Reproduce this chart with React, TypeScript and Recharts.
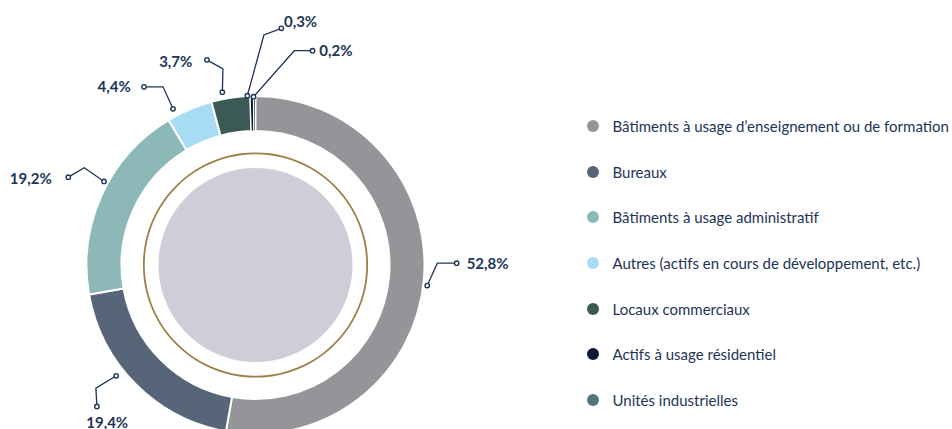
import React from 'react';
import { PieChart, Pie, Cell, Legend } from 'recharts';

const categories = [
    'Bâtiments à usage d’enseignement ou de formation',
    'Bureaux',
    'Bâtiments à usage administratif',
    'Autres (actifs en cours de développement, etc.)',
    'Locaux commerciaux',
    'Actifs à usage résidentiel',
    'Unités industrielles',
];
const shares = [52.8, 19.4, 19.2, 4.4, 3.7, 0.3, 0.2];
const colors = ['#939598', '#566577', '#8db8b8', '#a8dcf5', '#3c5a55', '#0e1a36', '#557378'];

// decorative centre (filled disc + thin gold ring)
const coreData = [{ name: 'core', value: 1 }];

// leader line layout per slice: anchor tweak, elbow/end offsets, text offset
const leaders = [
    { da: -1.8, dr: 4, elbow: [10, -22.4], end: [29.4, -22.4], text: [10, 0], anchor: 'start' },
    { da: -6.5, dr: 9, elbow: [-20.3, 12.3], end: [-19.3, 30.7], text: [10.3, 15], anchor: 'middle' },
    { da: -4.4, dr: 4, elbow: [-19.7, -13.7], end: [-35.7, -4.3], text: [-16.6, 1], anchor: 'end' },
    { da: 4.8, dr: 7.6, elbow: [-10, -22], end: [-29, -22], text: [-13.3, -0.7], anchor: 'end' },
    { da: 2.4, dr: 7, elbow: [0.6, -23.3], end: [-15.4, -32.3], text: [-14.6, 0.7], anchor: 'end' },
    { da: 1.5, dr: 0.5, elbow: [16.6, -60.7], end: [34, -67.4], text: [2.6, -7.6], anchor: 'start' },
    { da: 0.3, dr: -0.7, elbow: [40.7, -46], end: [59, -46], text: [6.7, -0.7], anchor: 'start' },
];

const NAVY = '#1e3557';
const RAD = Math.PI / 180;

const data = categories.map((name, i) => ({ name, value: shares[i] }));

const fmt = (v: number) => v.toFixed(1).replace('.', ',') + '%';

const LeaderLabel = (props: any) => {
    const { cx, cy, midAngle, outerRadius, index, value } = props;
    const l = leaders[index];
    if (!l) return null;
    const a = (midAngle + l.da) * RAD;
    const r = outerRadius + l.dr;
    const x0 = cx + r * Math.cos(-a);
    const y0 = cy + r * Math.sin(-a);
    const x1 = x0 + l.elbow[0];
    const y1 = y0 + l.elbow[1];
    const x2 = x0 + l.end[0];
    const y2 = y0 + l.end[1];
    return (
        <g>
            <polyline points={`${x0},${y0} ${x1},${y1} ${x2},${y2}`} fill="none" stroke={NAVY} strokeWidth={1.3} />
            <circle cx={x0} cy={y0} r={2.2} fill="#fff" stroke={NAVY} strokeWidth={1.4} />
            <circle cx={x2} cy={y2} r={2.2} fill="#fff" stroke={NAVY} strokeWidth={1.4} />
            <text
                x={x2 + l.text[0]}
                y={y2 + l.text[1]}
                textAnchor={l.anchor as any}
                dominantBaseline="central"
                fill={NAVY}
                fontSize={15}
                fontWeight={700}
                fontFamily="Lato, sans-serif"
            >
                {fmt(value)}
            </text>
        </g>
    );
};

// legend keeps the data order (recharts would sort it by name)
const LegendList = () => (
    <ul style={{ listStyle: 'none', margin: 0, padding: 0, fontFamily: 'Lato, sans-serif' }}>
        {categories.map((name, i) => (
            <li key={name} style={{ display: 'flex', alignItems: 'center', height: 45.7, whiteSpace: 'nowrap' }}>
                <svg width={12} height={12} style={{ flex: 'none' }}>
                    <circle cx={6} cy={6} r={6} fill={colors[i]} />
                </svg>
                <span style={{ marginLeft: 13.5, color: NAVY, fontSize: 15 }}>{name}</span>
            </li>
        ))}
    </ul>
);

export default function App() {
    return (
        <div style={{ position: 'absolute', left: 0, top: 0, width: 952, height: 429, background: '#fff' }}>
            <PieChart width={952} height={429} margin={{ top: 0, right: 0, bottom: 0, left: 0 }}>
                <Pie
                    data={coreData}
                    dataKey="value"
                    cx={255.5}
                    cy={265}
                    innerRadius={0}
                    outerRadius={97}
                    fill="#cfcdd8"
                    stroke="none"
                    legendType="none"
                    isAnimationActive={false}
                />
                <Pie
                    data={coreData}
                    dataKey="value"
                    cx={255.5}
                    cy={265}
                    innerRadius={110.8}
                    outerRadius={112.6}
                    fill="#9b8147"
                    stroke="none"
                    legendType="none"
                    isAnimationActive={false}
                />
                <Pie
                    data={data}
                    dataKey="value"
                    nameKey="name"
                    cx={255.5}
                    cy={265}
                    innerRadius={134}
                    outerRadius={169}
                    startAngle={90}
                    endAngle={-270}
                    stroke="#fff"
                    label={LeaderLabel}
                    labelLine={false}
                    isAnimationActive={false}
                >
                    {data.map((d, i) => (
                        // thinner gaps around the tiny slices so they stay visible
                        <Cell key={d.name} fill={colors[i]} strokeWidth={d.value < 1 ? 1 : 2} />
                    ))}
                </Pie>
                <Legend
                    layout="vertical"
                    content={<LegendList />}
                    wrapperStyle={{ position: 'absolute', left: 587, top: 103, width: 365 }}
                />
            </PieChart>
        </div>
    );
}
